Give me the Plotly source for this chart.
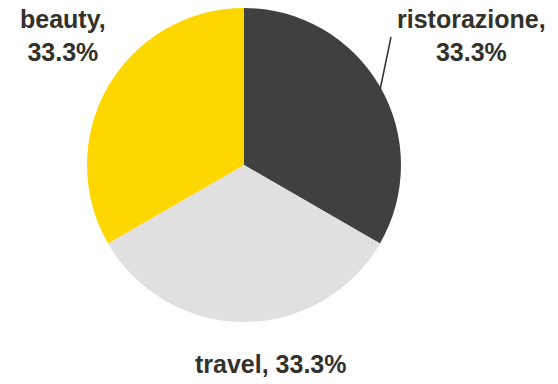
import plotly.graph_objects as go

labels = ["ristorazione", "travel", "beauty"]
values = [1, 1, 1]
colors = ["#404040", "#e0e0e0", "#ffd700"]
label_breaks = ["<br>", " ", "<br>"]

total = sum(values)
texts = [f"{l},{b}{v / total * 100:.1f}%" for l, v, b in zip(labels, values, label_breaks)]

fig = go.Figure(go.Pie(
    labels=labels,
    values=values,
    textinfo="none",
    sort=False,
    direction="clockwise",
    rotation=0,
    marker=dict(colors=colors, line=dict(width=0)),
    hoverinfo="label+percent",
    showlegend=False,
))

# Label placement in pixel space, converted to paper coordinates
L, T, W, H = 87, 8, 314, 314
def px(x):
    return (x - L) / W
def py(y):
    return (T + H - y) / H

pos = [(471, 36), (271, 364), (63, 36)]
for t, (x, y) in zip(texts, pos):
    fig.add_annotation(
        x=px(x), y=py(y), xref="paper", yref="paper",
        text=t, showarrow=False, xanchor="center", yanchor="middle", align="center",
        font=dict(family="Liberation Sans, Arial, sans-serif", size=25, color="#32312b", weight="bold"),
    )

fig.add_shape(type="line", xref="paper", yref="paper",
              x0=px(380), y0=py(90), x1=px(391), y1=py(37),
              line=dict(color="#32312b", width=1.5))

fig.update_layout(
    width=558, height=384,
    margin=dict(l=L, r=558 - L - W, t=T, b=384 - T - H),
    paper_bgcolor="white", plot_bgcolor="white",
)
fig.write_html("out.html")
